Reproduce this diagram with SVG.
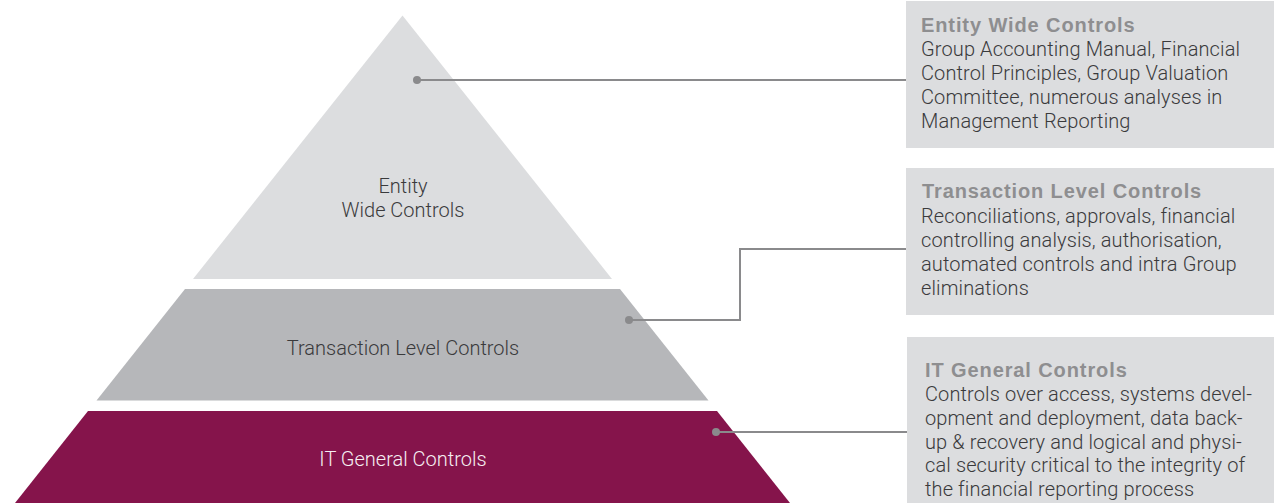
<svg xmlns="http://www.w3.org/2000/svg" width="1274" height="503" viewBox="0 0 1274 503">
  <style>
    .lbl { font-family: Roboto, "Liberation Sans", Arial, sans-serif; font-weight: 300; font-size: 20px; fill: #3a3a3c; text-anchor: middle; }
    .lbl-inv { fill: #f6eef2; }
    .box { fill: #dcdddf; }
    .ttl { font-family: "Liberation Sans", Arial, sans-serif; font-size: 20px; font-weight: bold; fill: #8e8e90; letter-spacing: 0.9px; }
    .body { font-family: Roboto, "Liberation Sans", Arial, sans-serif; font-weight: 300; font-size: 20px; fill: #3a3a3c; letter-spacing: 0.12px; }
    .wire { fill: none; stroke: #8a8a8c; stroke-width: 2; }
    .dot { fill: #8a8a8c; }
  </style>

  <!-- pyramid tiers -->
  <g id="tier-entity">
    <polygon points="402.5,15.5 612,279 193,279" fill="#dcdddf"/>
    <text class="lbl" x="403" y="192.5">Entity</text>
    <text class="lbl" x="403" y="216.5">Wide Controls</text>
  </g>
  <g id="tier-transaction">
    <polygon points="185,289 620,289 708.5,400.5 96.5,400.5" fill="#b6b7ba"/>
    <text class="lbl" x="403" y="355">Transaction Level Controls</text>
  </g>
  <g id="tier-it">
    <polygon points="88,411 717,411 790,503 15,503" fill="#85144b"/>
    <text class="lbl lbl-inv" x="403" y="466">IT General Controls</text>
  </g>

  <!-- description panels -->
  <g id="note-entity">
    <rect class="box" x="906" y="1" width="368" height="147"/>
    <text class="ttl" x="921" y="31.7">Entity Wide Controls</text>
    <text class="body" x="921" y="56">Group Accounting Manual, Financial</text>
    <text class="body" x="921" y="80">Control Principles, Group Valuation</text>
    <text class="body" x="921" y="104">Committee, numerous analyses in</text>
    <text class="body" x="921" y="128">Management Reporting</text>
  </g>
  <g id="note-transaction">
    <rect class="box" x="906" y="168" width="368" height="147"/>
    <text class="ttl" x="922" y="198.3">Transaction Level Controls</text>
    <text class="body" x="921" y="222.5">Reconciliations, approvals, financial</text>
    <text class="body" x="921" y="246.5">controlling analysis, authorisation,</text>
    <text class="body" x="921" y="270.5">automated controls and intra Group</text>
    <text class="body" x="921" y="294.5">eliminations</text>
  </g>
  <g id="note-it">
    <rect class="box" x="907" y="337" width="367" height="166"/>
    <text class="ttl" x="925" y="376.5">IT General Controls</text>
    <text class="body" x="925" y="400.5">Controls over access, systems devel-</text>
    <text class="body" x="925" y="424.5">opment and deployment, data back-</text>
    <text class="body" x="925" y="448.5">up &amp; recovery and logical and physi-</text>
    <text class="body" x="925" y="472">cal security critical to the integrity of</text>
    <text class="body" x="925" y="496">the financial reporting process</text>
  </g>

  <!-- leader lines -->
  <g id="connectors">
    <path class="wire" d="M417,80 H906"/>
    <circle class="dot" cx="417" cy="80" r="4"/>
    <path class="wire" d="M629,320 H740 V249 H906"/>
    <circle class="dot" cx="629" cy="320" r="4"/>
    <path class="wire" d="M716,432 H907"/>
    <circle class="dot" cx="716" cy="432" r="4"/>
  </g>
</svg>
